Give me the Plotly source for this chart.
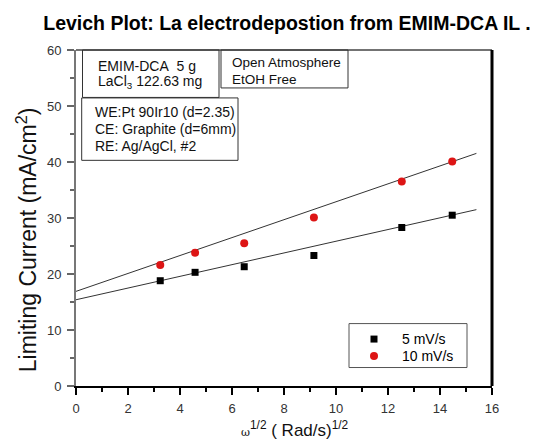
import plotly.graph_objects as go

# ---- data ----
omega_sqrt = [3.24, 4.58, 6.47, 9.15, 12.53, 14.47]
i_5mv = [18.8, 20.3, 21.3, 23.3, 28.3, 30.5]
i_10mv = [21.6, 23.8, 25.5, 30.1, 36.5, 40.1]
fit_5_intercept, fit_5_slope = 15.4, 1.045
fit_10_intercept, fit_10_slope = 16.9, 1.60
fit_x = [0, 15.4]
x_ticks = [0, 2, 4, 6, 8, 10, 12, 14, 16]
y_ticks = [0, 10, 20, 30, 40, 50, 60]
series_names = ["5 mV/s", "10 mV/s"]
series_colors = ["black", "#dd1515"]

FONT = "Liberation Sans, Arial, sans-serif"

fig = go.Figure()
fig.add_trace(go.Scatter(x=fit_x, y=[fit_5_intercept + fit_5_slope * v for v in fit_x],
                         mode="lines", line=dict(color="#333333", width=1), showlegend=False, hoverinfo="skip"))
fig.add_trace(go.Scatter(x=fit_x, y=[fit_10_intercept + fit_10_slope * v for v in fit_x],
                         mode="lines", line=dict(color="#333333", width=1), showlegend=False, hoverinfo="skip"))
fig.add_trace(go.Scatter(x=omega_sqrt, y=i_5mv, mode="markers", name=series_names[0], showlegend=False,
                         marker=dict(symbol="square", size=7, color=series_colors[0])))
fig.add_trace(go.Scatter(x=omega_sqrt, y=i_10mv, mode="markers", name=series_names[1], showlegend=False,
                         marker=dict(symbol="circle", size=8, color=series_colors[1])))

L, R, T, B = 76, 55, 49.5, 55
W, H = 547, 441
pw, ph = W - L - R, H - T - B

def px(xp):
    return (xp - L) / pw

def py(yp):
    return (H - B - yp) / ph

fig.update_layout(
    width=W, height=H,
    margin=dict(l=L, r=R, t=T, b=B),
    paper_bgcolor="white", plot_bgcolor="white",
    font=dict(family=FONT, color="#222222"),
    title=dict(text="<b>Levich Plot: La electrodepostion from EMIM-DCA IL .</b>",
               x=287 / W, xanchor="center", y=1 - 22.7 / H, yanchor="middle",
               font=dict(size=19.5, color="black", family=FONT)),
    showlegend=False,
    xaxis=dict(range=[0, 16], tickvals=x_ticks, ticks="outside", ticklen=7, tickwidth=2,
               tickcolor="black", showline=True, linecolor="black", linewidth=2,
               showgrid=False, zeroline=False, tickfont=dict(size=13, color="#333333"),
               ticklabelstandoff=2,
               minor=dict(dtick=1, ticks="outside", ticklen=4, tickwidth=2, tickcolor="black", showgrid=False)),
    yaxis=dict(range=[0, 60], tickvals=y_ticks, ticks="outside", ticklen=7, tickwidth=2,
               tickcolor="#666666", showline=True, linecolor="#777777", linewidth=2,
               showgrid=False, zeroline=False, tickfont=dict(size=13, color="#333333"),
               ticklabelstandoff=3,
               minor=dict(dtick=5, ticks="outside", ticklen=4, tickwidth=2, tickcolor="#666666", showgrid=False)),
)

def rect(x0, x1, y0, y1, fill="rgba(0,0,0,0)", color="#333333"):
    return dict(type="rect", xref="paper", yref="paper", x0=px(x0), x1=px(x1), y0=py(y1), y1=py(y0),
                line=dict(color=color, width=1), fillcolor=fill)

shapes = [
    dict(type="line", xref="paper", yref="paper", x0=0, x1=1, y0=1, y1=1,
         line=dict(color="#444444", width=1.5)),
    dict(type="line", xref="paper", yref="paper", x0=1, x1=1, y0=0, y1=1,
         line=dict(color="black", width=3)),
    rect(82.5, 219, 49.5, 97),
    rect(221, 348, 49.5, 87.5),
    rect(81.7, 238, 97.5, 160, fill="white"),
    # legend frame and symbols
    rect(349, 467, 323.5, 367.5, fill="white", color="#555555"),
    dict(type="rect", xref="paper", yref="paper", x0=px(370.5), x1=px(377.5), y0=py(342.5), y1=py(335.5),
         line=dict(width=0), fillcolor=series_colors[0]),
    dict(type="circle", xref="paper", yref="paper", x0=px(370), x1=px(378), y0=py(360), y1=py(352),
         line=dict(width=0), fillcolor=series_colors[1]),
]
fig.update_layout(shapes=shapes)

ann = []
def txt(s, xp, yp, size=14, color="#111111"):
    ann.append(dict(text=s, xref="paper", yref="paper", x=px(xp), y=py(yp),
                    xanchor="left", yanchor="middle", showarrow=False,
                    font=dict(size=size, color=color, family=FONT)))

txt("EMIM-DCA\u00a0\u00a05 g", 96, 65.2)
txt("LaCl<sub>3</sub> 122.63 mg", 96, 82)
txt("Open Atmosphere", 229.5, 62, 13.5)
txt("EtOH Free", 229.5, 79, 13.5)
txt("WE:Pt 90Ir10 (d=2.35)", 93.3, 111.2)
txt("CE: Graphite (d=6mm)", 93.3, 128.9)
txt("RE: Ag/AgCl, #2", 93.3, 145.8)
txt(series_names[0], 400, 338.5, 14, "black")
txt(series_names[1], 400, 356, 14, "black")

ann.append(dict(text="Limiting Current (mA/cm<sup>2</sup>)", xref="paper", yref="paper",
                x=px(27), y=py(240), xanchor="center", yanchor="middle", textangle=-90,
                showarrow=False, font=dict(size=23, color="#111111", family=FONT)))
ann.append(dict(text="<span style='font-family:DejaVu Serif, serif;font-size:11px'>ω</span>"
                     "<sup>1/2</sup> ( Rad/s)<sup>1/2</sup>",
                xref="paper", yref="paper", x=px(295), y=py(429), xanchor="center", yanchor="middle",
                showarrow=False, font=dict(size=17, color="#111111", family=FONT)))
fig.update_layout(annotations=ann)

fig.write_html("out.html")
